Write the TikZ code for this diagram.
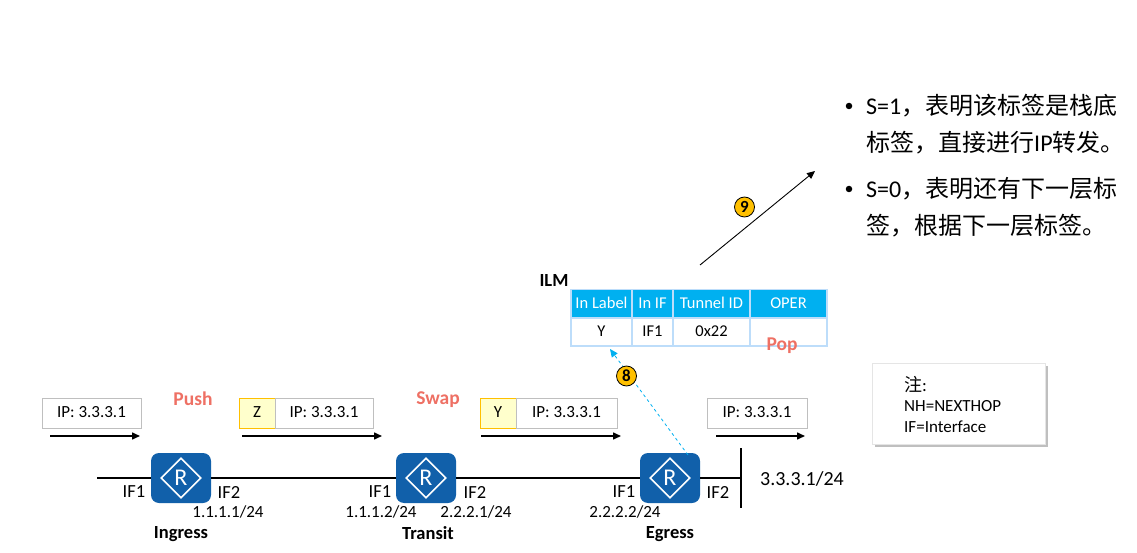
\documentclass[tikz,border=0pt]{standalone}
\usepackage{fontspec}
\usepackage{xcolor}
\usetikzlibrary{calc,arrows.meta,positioning,shapes.geometric,shadows}
\setmainfont{Carlito}
\newfontfamily\cjk{Noto Sans CJK SC}
\definecolor{routerBlue}{RGB}{17,96,170}
\definecolor{headBlue}{RGB}{0,176,240}
\definecolor{gridBlue}{RGB}{189,221,250}
\definecolor{boxGray}{RGB}{191,191,191}
\definecolor{labelYellow}{RGB}{255,255,204}
\definecolor{labelEdge}{RGB}{255,192,0}
\definecolor{operRed}{RGB}{238,112,100}
\newcommand{\fsize}[1]{\fontsize{#1}{#1}\selectfont}

\tikzset{
  routerbox/.style={fill=routerBlue,rounded corners=8pt,minimum width=60pt,minimum height=50pt,inner sep=0pt},
  routermark/.style={diamond,draw=white,line width=1.6pt,minimum width=40pt,minimum height=40pt,inner sep=0pt,text=white,font=\fsize{24}},
  pktbox/.style={draw=boxGray,line width=0.8pt,minimum height=30pt,inner sep=0pt,text height=11pt,text depth=3pt,font=\fsize{17}},
  lblbox/.style={pktbox,draw=labelEdge,fill=labelYellow},
  flow/.style={line width=1.5pt,-{Triangle[length=8pt,width=7pt]}},
  link/.style={line width=1.5pt},
  iflabel/.style={font=\fsize{18.5}},
  addrlabel/.style={font=\fsize{17}},
  namelabel/.style={font=\bfseries\fsize{18.5}},
  oper/.style={text=operRed,font=\bfseries\fsize{19.5}},
  ilmhead/.style={draw=gridBlue,fill=headBlue,text=white,line width=1.1pt,minimum height=29pt,inner sep=0pt,text height=11pt,text depth=3pt,font=\fsize{16.5}},
  ilmcell/.style={draw=gridBlue,line width=1.1pt,minimum height=28pt,inner sep=0pt,text height=11pt,text depth=3pt,font=\fsize{16.5}},
  stepmark/.style={circle,draw=black,fill=labelEdge,line width=0.8pt,minimum size=20pt,inner sep=0pt,font=\bfseries\fsize{17}},
  bulletline/.style={anchor=west,inner sep=0pt,font=\fsize{24}},
  bulletdot/.style={circle,fill=black,minimum size=6.5pt,inner sep=0pt},
}

\begin{document}
\begin{tikzpicture}[x=1pt,y=-1pt]
\useasboundingbox (0,0) rectangle (1137,553);

% routers
\foreach \name/\x in {ingress/181,transit/426,egress/670}{
  \node[routerbox] (\name) at (\x,478) {};
  \node[routermark] (\name mark) at (\name) {R};
}
\coordinate (lanEnd) at (97,478);
\coordinate (stubTop) at (741,448);
\coordinate (stubBot) at (741,508);
\coordinate (stubMid) at (741,478);
\draw[link] (lanEnd) -- (ingress);
\draw[link] (ingress) -- (transit);
\draw[link] (transit) -- (egress);
\draw[link] (egress) -- (stubMid);
\draw[link] (stubTop) -- (stubBot);

% interface labels
\foreach \txt/\x in {IF1/134,IF2/229,IF1/380,IF2/475,IF1/624,IF2/718}
  \node[iflabel] (if\x) at (\x,492) {\txt};
\foreach \txt/\x in {1.1.1.1/228,1.1.1.2/381,2.2.2.1/476,2.2.2.2/625}
  \node[addrlabel] (addr\x) at (\x,512) {\txt/24};
\node[namelabel] (ingressname) at (181,534) {Ingress};
\node[namelabel] (transitname) at (428,533) {Transit};
\node[namelabel] (egressname) at (670,534) {Egress};
\node[font=\fsize{20}] (stubaddr) at (802,479) {3.3.3.1/24};

% packets
\node[pktbox,minimum width=99pt] (pkt1) at (91.5,413) {IP: 3.3.3.1};
\node[lblbox,minimum width=36pt] (lblz) at (257,413) {Z};
\node[pktbox,minimum width=98pt] (pkt2) at (324,413) {IP: 3.3.3.1};
\node[lblbox,minimum width=36pt] (lbly) at (498,413) {Y};
\node[pktbox,minimum width=101pt] (pkt3) at (566.5,413) {IP: 3.3.3.1};
\node[pktbox,minimum width=100pt] (pkt4) at (757,413) {IP: 3.3.3.1};

\foreach \a/\b in {50/140,242/382,481/621,716/805}{
  \coordinate (f\a) at (\a,436);
  \coordinate (t\a) at (\b,436);
  \draw[flow] (f\a) -- (t\a);
}

\node[oper] (push) at (193,399) {Push};
\node[oper] (swap) at (438,400) {Swap};

% ILM table
\node[namelabel] (ilm) at (554,281) {ILM};
\node[ilmhead,minimum width=61pt] (h1) at (601.5,304) {In Label};
\node[ilmhead,minimum width=41pt] (h2) at (652.5,304) {In IF};
\node[ilmhead,minimum width=77pt] (h3) at (711.5,304) {Tunnel ID};
\node[ilmhead,minimum width=77pt] (h4) at (788.5,304) {OPER};
\node[ilmcell,minimum width=61pt] (c1) at (601.5,332) {Y};
\node[ilmcell,minimum width=41pt] (c2) at (652.5,332) {IF1};
\node[ilmcell,minimum width=77pt] (c3) at (711.5,332) {0x22};
\node[ilmcell,minimum width=77pt] (c4) at (788.5,332) {};
\node[oper] (pop) at (782,346) {Pop};

% steps
\coordinate (lookupStart) at (688,455);
\coordinate (lookupEnd) at (610,349);
\draw[headBlue,dashed,line width=0.8pt,-{Triangle[length=8pt,width=7pt]}] (lookupStart) -- (lookupEnd);
\node[stepmark] (step8) at (626.5,376) {8};

\coordinate (fwdStart) at (700,265);
\coordinate (fwdEnd) at (815,171);
\draw[line width=0.9pt,-{Triangle[length=8pt,width=7pt]}] (fwdStart) -- (fwdEnd);
\node[stepmark] (step9) at (744.5,207) {9};

% notes on the S bit
\node[bulletdot] (dot1) at (849,106) {};
\node[bulletdot] (dot2) at (849,189) {};
\node[bulletline] (s1a) at (866,106) {S=1{\cjk ，表明该标签是栈底}};
\node[bulletline] (s1b) at (866,143) {{\cjk 标签，直接进行}IP{\cjk 转发。}};
\node[bulletline] (s0a) at (866,189) {S=0{\cjk ，表明还有下一层标}};
\node[bulletline] (s0b) at (866,226) {{\cjk 签，根据下一层标签。}};

% legend
\node[draw=black!10,fill=white,drop shadow={shadow xshift=2.5pt,shadow yshift=-2.5pt,fill=black!50},minimum width=173pt,minimum height=81pt] (legend) at (958.5,403.5) {};
\node[anchor=west,inner sep=0pt,font=\fsize{18}] (legend1) at (904,385) {{\cjk 注}:};
\node[anchor=west,inner sep=0pt,font=\fsize{17}] (legend2) at (904,406) {NH=NEXTHOP};
\node[anchor=west,inner sep=0pt,font=\fsize{17}] (legend3) at (904,427) {IF=Interface};
\end{tikzpicture}
\end{document}
